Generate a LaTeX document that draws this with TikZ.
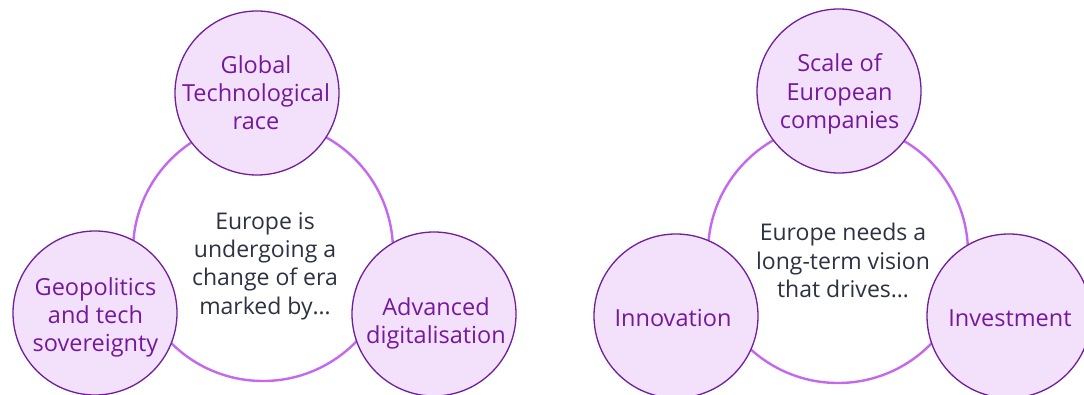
\documentclass[tikz,border=0pt]{standalone}
\usepackage{fontspec}
\setmainfont{Open Sans}
\definecolor{ringc}{HTML}{C468EE}
\definecolor{bordc}{HTML}{6E1F9B}
\definecolor{fillc}{HTML}{F3E0FB}
\definecolor{txtp}{HTML}{74199E}
\definecolor{txtd}{HTML}{2C3241}
\tikzset{
  ring/.style={circle, draw=ringc, line width=2.4pt, fill=white, minimum size=260pt, inner sep=0pt},
  topic/.style={circle, draw=bordc, line width=1.3pt, fill=fillc, minimum size=164pt, inner sep=0pt},
  ttxt/.style={align=center, text=txtp, inner sep=0pt, text depth=0pt, anchor=south, yshift=-2pt, font=\fontsize{23.5}{28.3}\selectfont},
  ctxt/.style={align=center, text=txtd, inner sep=0pt, text depth=0pt, anchor=south, yshift=-2.5pt, font=\fontsize{23}{28.3}\selectfont}
}
\begin{document}
\begin{tikzpicture}[x=1pt,y=-1pt]
\useasboundingbox (0,0) rectangle (1084,395);
\clip (0,0) rectangle (1084,395);
% left diagram
\node[ring] (lbig) at (263,251) {};
\node[topic] (ltop) at (257,93) {};
\node[topic] (lleft) at (95,313) {};
\node[topic] (lright) at (434,314) {};
\node[ttxt] (ltopt) at (256,128) {Global\\Technological\\race};
\node[ttxt] (lleftt) at (95.5,350) {Geopolitics\\and tech\\sovereignty};
\node[ttxt] (lrightt) at (436,341.7) {Advanced\\digitalisation};
\node[ctxt] (lcen) at (265,311.7) {Europe is\\undergoing a\\change of era\\marked by…};
% right diagram
\node[ring] (rbig) at (838,253) {};
\node[topic] (rtop) at (839,91) {};
\node[topic] (rleft) at (676,316) {};
\node[topic] (rright) at (1009,316) {};
\node[ttxt] (rtopt) at (839.6,126.7) {Scale of\\European\\companies};
\node[ttxt] (rleftt) at (673,325) {Innovation};
\node[ttxt] (rrightt) at (1010,325) {Investment};
\node[ctxt] (rcen) at (843,295) {Europe needs a\\long-term vision\\that drives…};
\end{tikzpicture}
\end{document}
